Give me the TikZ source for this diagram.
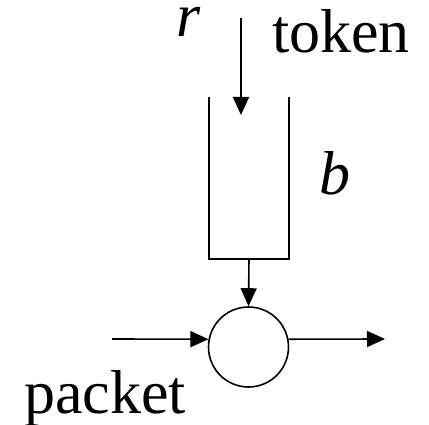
\documentclass[tikz,border=0pt]{standalone}
\usepackage{fontspec}
\setmainfont{Liberation Serif}
\usetikzlibrary{arrows.meta,positioning}

\begin{document}
\begin{tikzpicture}[x=1pt, y=-1pt,
  line/.style={line width=1.6pt},
  arrow/.style={line, -{Triangle[length=18pt, width=16pt]}},
  lbl/.style={anchor=base west, inner sep=0pt, font=\fontsize{62}{70}\selectfont}]
\useasboundingbox (0,0) rectangle (429,425);

% bucket and gate
\node[minimum width=80pt, minimum height=162pt, inner sep=0pt] (bucket) at (249,178) {};
\node[line, draw, circle, minimum size=80pt, inner sep=0pt] (gate) at (248.5,347) {};
\draw[line] (bucket.north west) -- (bucket.south west) -- (bucket.south east) -- (bucket.north east);

% free ends
\coordinate (tokin) at (241,18);
\coordinate (tokend) at (241,115);
\coordinate (pktin) at (112,339);
\coordinate (pktout) at (385,339);

% labels
\node[lbl, text height=28pt] (rate) at (176,37) {\textit{r}};
\node[lbl] (token) at (272,53) {token};
\node[lbl] (depth) at (319,195) {\textit{b}};
\node[lbl] (packet) at (24,413) {packet};

% arrows
\draw[arrow] (tokin) -- (tokend);
\draw[arrow] (bucket.south) -- (gate.north);
\draw[arrow] (pktin) -- (gate.169);
\draw[arrow] (gate.11) -- (pktout);
\end{tikzpicture}
\end{document}
